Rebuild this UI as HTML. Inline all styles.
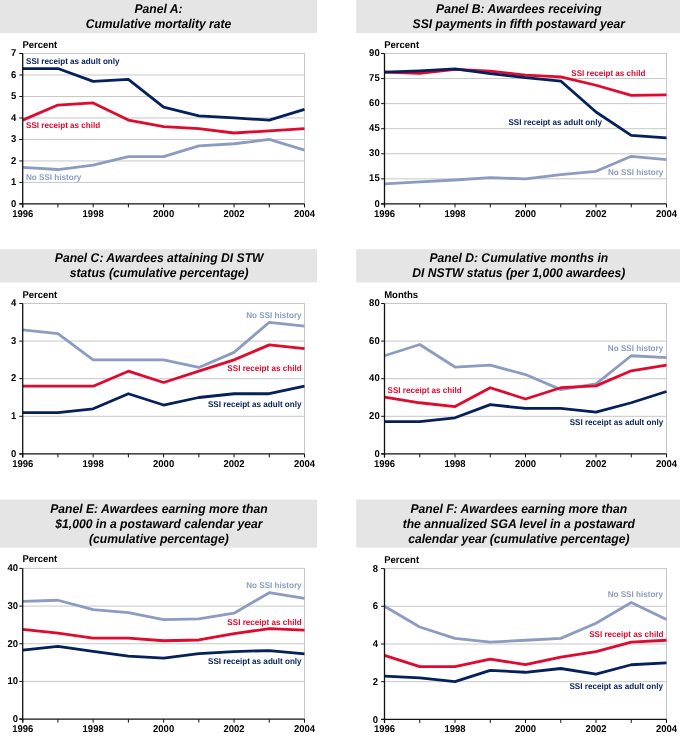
<!DOCTYPE html>
<html><head><meta charset="utf-8"><title>Chart</title>
<style>
html,body{margin:0;padding:0;background:#fff;}
svg{display:block;will-change:transform;}
text{font-family:"Liberation Sans",sans-serif;text-rendering:geometricPrecision;}
.t{font-size:12.15px;font-weight:bold;font-style:italic;fill:#000;text-anchor:middle;}
.a{font-size:9.5px;font-weight:bold;fill:#000;}
.s{font-size:8.1px;font-weight:bold;}
</style></head><body>
<svg width="680" height="737" viewBox="0 0 680 737">
<rect width="680" height="737" fill="#fff"/>
<g>
<rect x="0" y="0" width="317" height="33.1" fill="#e5e5e5"/>
<text class="t" transform="translate(158.5 12.8) scale(1 1.04)">Panel A:</text>
<text class="t" transform="translate(158.5 27.6) scale(1 1.04)">Cumulative mortality rate</text>
<text class="a" transform="translate(22.4 47.5) scale(1 1.04)">Percent</text>
<line x1="22.7" y1="182.41" x2="305" y2="182.41" stroke="#c6c7c9" stroke-width="1"/>
<line x1="22.7" y1="160.93" x2="305" y2="160.93" stroke="#c6c7c9" stroke-width="1"/>
<line x1="22.7" y1="139.44" x2="305" y2="139.44" stroke="#c6c7c9" stroke-width="1"/>
<line x1="22.7" y1="117.96" x2="305" y2="117.96" stroke="#c6c7c9" stroke-width="1"/>
<line x1="22.7" y1="96.47" x2="305" y2="96.47" stroke="#c6c7c9" stroke-width="1"/>
<line x1="22.7" y1="74.99" x2="305" y2="74.99" stroke="#c6c7c9" stroke-width="1"/>
<line x1="22.7" y1="53.50" x2="305" y2="53.50" stroke="#c6c7c9" stroke-width="1"/>
<line x1="304.5" y1="53.5" x2="304.5" y2="203.9" stroke="#c6c7c9" stroke-width="1"/>
<polyline points="22.70,167.37 57.92,169.52 93.15,165.23 128.38,156.63 163.60,156.63 198.82,145.89 234.05,143.74 269.28,139.44 304.50,150.19" fill="none" stroke="#8c9cc1" stroke-width="2.8" stroke-linejoin="round"/>
<polyline points="22.70,120.11 57.92,105.07 93.15,102.92 128.38,120.11 163.60,126.55 198.82,128.70 234.05,133.00 269.28,130.85 304.50,128.70" fill="none" stroke="#df0a2e" stroke-width="2.8" stroke-linejoin="round"/>
<polyline points="22.70,68.54 57.92,68.54 93.15,81.43 128.38,79.28 163.60,107.21 198.82,115.81 234.05,117.96 269.28,120.11 304.50,109.36" fill="none" stroke="#05205a" stroke-width="2.8" stroke-linejoin="round"/>
<line x1="22.7" y1="53.5" x2="22.7" y2="207.4" stroke="#111" stroke-width="1.3"/>
<line x1="19.3" y1="203.9" x2="304.5" y2="203.9" stroke="#111" stroke-width="1.3"/>
<line x1="19.3" y1="203.90" x2="22.7" y2="203.90" stroke="#111" stroke-width="1"/>
<text class="a" transform="translate(16.2 206.50) scale(1 1.04)" text-anchor="end">0</text>
<line x1="19.3" y1="182.41" x2="22.7" y2="182.41" stroke="#111" stroke-width="1"/>
<text class="a" transform="translate(16.2 185.01) scale(1 1.04)" text-anchor="end">1</text>
<line x1="19.3" y1="160.93" x2="22.7" y2="160.93" stroke="#111" stroke-width="1"/>
<text class="a" transform="translate(16.2 163.53) scale(1 1.04)" text-anchor="end">2</text>
<line x1="19.3" y1="139.44" x2="22.7" y2="139.44" stroke="#111" stroke-width="1"/>
<text class="a" transform="translate(16.2 142.04) scale(1 1.04)" text-anchor="end">3</text>
<line x1="19.3" y1="117.96" x2="22.7" y2="117.96" stroke="#111" stroke-width="1"/>
<text class="a" transform="translate(16.2 120.56) scale(1 1.04)" text-anchor="end">4</text>
<line x1="19.3" y1="96.47" x2="22.7" y2="96.47" stroke="#111" stroke-width="1"/>
<text class="a" transform="translate(16.2 99.07) scale(1 1.04)" text-anchor="end">5</text>
<line x1="19.3" y1="74.99" x2="22.7" y2="74.99" stroke="#111" stroke-width="1"/>
<text class="a" transform="translate(16.2 77.59) scale(1 1.04)" text-anchor="end">6</text>
<line x1="19.3" y1="53.50" x2="22.7" y2="53.50" stroke="#111" stroke-width="1"/>
<text class="a" transform="translate(16.2 56.10) scale(1 1.04)" text-anchor="end">7</text>
<line x1="22.70" y1="203.9" x2="22.70" y2="207.4" stroke="#111" stroke-width="1"/>
<text class="a" transform="translate(22.70 216.6) scale(1 1.04)" text-anchor="middle">1996</text>
<line x1="57.92" y1="203.9" x2="57.92" y2="207.4" stroke="#111" stroke-width="1"/>
<line x1="93.15" y1="203.9" x2="93.15" y2="207.4" stroke="#111" stroke-width="1"/>
<text class="a" transform="translate(93.15 216.6) scale(1 1.04)" text-anchor="middle">1998</text>
<line x1="128.38" y1="203.9" x2="128.38" y2="207.4" stroke="#111" stroke-width="1"/>
<line x1="163.60" y1="203.9" x2="163.60" y2="207.4" stroke="#111" stroke-width="1"/>
<text class="a" transform="translate(163.60 216.6) scale(1 1.04)" text-anchor="middle">2000</text>
<line x1="198.82" y1="203.9" x2="198.82" y2="207.4" stroke="#111" stroke-width="1"/>
<line x1="234.05" y1="203.9" x2="234.05" y2="207.4" stroke="#111" stroke-width="1"/>
<text class="a" transform="translate(234.05 216.6) scale(1 1.04)" text-anchor="middle">2002</text>
<line x1="269.28" y1="203.9" x2="269.28" y2="207.4" stroke="#111" stroke-width="1"/>
<line x1="304.50" y1="203.9" x2="304.50" y2="207.4" stroke="#111" stroke-width="1"/>
<text class="a" transform="translate(304.50 216.6) scale(1 1.04)" text-anchor="middle">2004</text>
<text class="s" transform="translate(26 64.1) scale(1 1.04)" text-anchor="start" fill="#05205a">SSI receipt as adult only</text>
<text class="s" transform="translate(26 128.1) scale(1 1.04)" text-anchor="start" fill="#df0a2e">SSI receipt as child</text>
<text class="s" transform="translate(26 179.9) scale(1 1.04)" text-anchor="start" fill="#8c9cc1">No SSI history</text>
</g>
<g>
<rect x="356.2" y="0" width="324" height="33.1" fill="#e5e5e5"/>
<text class="t" transform="translate(518.8 12.8) scale(1 1.04)">Panel B: Awardees receiving</text>
<text class="t" transform="translate(518.8 27.6) scale(1 1.04)">SSI payments in fifth postaward year</text>
<text class="a" transform="translate(384.2 48) scale(1 1.04)">Percent</text>
<line x1="384.5" y1="178.83" x2="667" y2="178.83" stroke="#c6c7c9" stroke-width="1"/>
<line x1="384.5" y1="153.77" x2="667" y2="153.77" stroke="#c6c7c9" stroke-width="1"/>
<line x1="384.5" y1="128.70" x2="667" y2="128.70" stroke="#c6c7c9" stroke-width="1"/>
<line x1="384.5" y1="103.63" x2="667" y2="103.63" stroke="#c6c7c9" stroke-width="1"/>
<line x1="384.5" y1="78.57" x2="667" y2="78.57" stroke="#c6c7c9" stroke-width="1"/>
<line x1="384.5" y1="53.50" x2="667" y2="53.50" stroke="#c6c7c9" stroke-width="1"/>
<line x1="666.5" y1="53.5" x2="666.5" y2="203.9" stroke="#c6c7c9" stroke-width="1"/>
<polyline points="384.50,183.85 419.75,181.84 455.00,180.00 490.25,177.66 525.50,178.83 560.75,174.66 596.00,171.31 631.25,156.27 666.50,159.62" fill="none" stroke="#8c9cc1" stroke-width="2.8" stroke-linejoin="round"/>
<polyline points="384.50,72.22 419.75,73.39 455.00,69.38 490.25,71.05 525.50,75.22 560.75,76.90 596.00,85.25 631.25,95.28 666.50,94.94" fill="none" stroke="#df0a2e" stroke-width="2.8" stroke-linejoin="round"/>
<polyline points="384.50,72.13 419.75,70.80 455.00,68.87 490.25,73.55 525.50,77.73 560.75,81.07 596.00,111.99 631.25,135.38 666.50,137.89" fill="none" stroke="#05205a" stroke-width="2.8" stroke-linejoin="round"/>
<line x1="384.5" y1="53.5" x2="384.5" y2="207.4" stroke="#111" stroke-width="1.3"/>
<line x1="381.1" y1="203.9" x2="666.5" y2="203.9" stroke="#111" stroke-width="1.3"/>
<line x1="381.1" y1="203.90" x2="384.5" y2="203.90" stroke="#111" stroke-width="1"/>
<text class="a" transform="translate(379.7 206.50) scale(1 1.04)" text-anchor="end">0</text>
<line x1="381.1" y1="178.83" x2="384.5" y2="178.83" stroke="#111" stroke-width="1"/>
<text class="a" transform="translate(379.7 181.43) scale(1 1.04)" text-anchor="end">15</text>
<line x1="381.1" y1="153.77" x2="384.5" y2="153.77" stroke="#111" stroke-width="1"/>
<text class="a" transform="translate(379.7 156.37) scale(1 1.04)" text-anchor="end">30</text>
<line x1="381.1" y1="128.70" x2="384.5" y2="128.70" stroke="#111" stroke-width="1"/>
<text class="a" transform="translate(379.7 131.30) scale(1 1.04)" text-anchor="end">45</text>
<line x1="381.1" y1="103.63" x2="384.5" y2="103.63" stroke="#111" stroke-width="1"/>
<text class="a" transform="translate(379.7 106.23) scale(1 1.04)" text-anchor="end">60</text>
<line x1="381.1" y1="78.57" x2="384.5" y2="78.57" stroke="#111" stroke-width="1"/>
<text class="a" transform="translate(379.7 81.17) scale(1 1.04)" text-anchor="end">75</text>
<line x1="381.1" y1="53.50" x2="384.5" y2="53.50" stroke="#111" stroke-width="1"/>
<text class="a" transform="translate(379.7 56.10) scale(1 1.04)" text-anchor="end">90</text>
<line x1="384.50" y1="203.9" x2="384.50" y2="207.4" stroke="#111" stroke-width="1"/>
<text class="a" transform="translate(384.50 216.6) scale(1 1.04)" text-anchor="middle">1996</text>
<line x1="419.75" y1="203.9" x2="419.75" y2="207.4" stroke="#111" stroke-width="1"/>
<line x1="455.00" y1="203.9" x2="455.00" y2="207.4" stroke="#111" stroke-width="1"/>
<text class="a" transform="translate(455.00 216.6) scale(1 1.04)" text-anchor="middle">1998</text>
<line x1="490.25" y1="203.9" x2="490.25" y2="207.4" stroke="#111" stroke-width="1"/>
<line x1="525.50" y1="203.9" x2="525.50" y2="207.4" stroke="#111" stroke-width="1"/>
<text class="a" transform="translate(525.50 216.6) scale(1 1.04)" text-anchor="middle">2000</text>
<line x1="560.75" y1="203.9" x2="560.75" y2="207.4" stroke="#111" stroke-width="1"/>
<line x1="596.00" y1="203.9" x2="596.00" y2="207.4" stroke="#111" stroke-width="1"/>
<text class="a" transform="translate(596.00 216.6) scale(1 1.04)" text-anchor="middle">2002</text>
<line x1="631.25" y1="203.9" x2="631.25" y2="207.4" stroke="#111" stroke-width="1"/>
<line x1="666.50" y1="203.9" x2="666.50" y2="207.4" stroke="#111" stroke-width="1"/>
<text class="a" transform="translate(666.50 216.6) scale(1 1.04)" text-anchor="middle">2004</text>
<text class="s" transform="translate(645.5 75.9) scale(1 1.04)" text-anchor="end" fill="#df0a2e">SSI receipt as child</text>
<text class="s" transform="translate(602 124.9) scale(1 1.04)" text-anchor="end" fill="#05205a">SSI receipt as adult only</text>
<text class="s" transform="translate(663.3 174.7) scale(1 1.04)" text-anchor="end" fill="#8c9cc1">No SSI history</text>
</g>
<g>
<rect x="0" y="249.2" width="317" height="33.2" fill="#e5e5e5"/>
<text class="t" transform="translate(159.2 262.3) scale(1 1.04)">Panel C: Awardees attaining DI STW</text>
<text class="t" transform="translate(159.2 277) scale(1 1.04)">status (cumulative percentage)</text>
<text class="a" transform="translate(22.4 297.5) scale(1 1.04)">Percent</text>
<line x1="22.7" y1="416.30" x2="305" y2="416.30" stroke="#c6c7c9" stroke-width="1"/>
<line x1="22.7" y1="378.70" x2="305" y2="378.70" stroke="#c6c7c9" stroke-width="1"/>
<line x1="22.7" y1="341.10" x2="305" y2="341.10" stroke="#c6c7c9" stroke-width="1"/>
<line x1="22.7" y1="303.50" x2="305" y2="303.50" stroke="#c6c7c9" stroke-width="1"/>
<line x1="304.5" y1="303.5" x2="304.5" y2="453.9" stroke="#c6c7c9" stroke-width="1"/>
<polyline points="22.70,329.82 57.92,333.58 93.15,359.90 128.38,359.90 163.60,359.90 198.82,367.42 234.05,352.38 269.28,322.30 304.50,326.06" fill="none" stroke="#8c9cc1" stroke-width="2.8" stroke-linejoin="round"/>
<polyline points="22.70,386.22 57.92,386.22 93.15,386.22 128.38,371.18 163.60,382.46 198.82,371.18 234.05,359.90 269.28,344.86 304.50,348.62" fill="none" stroke="#df0a2e" stroke-width="2.8" stroke-linejoin="round"/>
<polyline points="22.70,412.54 57.92,412.54 93.15,408.78 128.38,393.74 163.60,405.02 198.82,397.50 234.05,393.74 269.28,393.74 304.50,386.22" fill="none" stroke="#05205a" stroke-width="2.8" stroke-linejoin="round"/>
<line x1="22.7" y1="303.5" x2="22.7" y2="457.4" stroke="#111" stroke-width="1.3"/>
<line x1="19.3" y1="453.9" x2="304.5" y2="453.9" stroke="#111" stroke-width="1.3"/>
<line x1="19.3" y1="453.90" x2="22.7" y2="453.90" stroke="#111" stroke-width="1"/>
<text class="a" transform="translate(16.2 456.50) scale(1 1.04)" text-anchor="end">0</text>
<line x1="19.3" y1="416.30" x2="22.7" y2="416.30" stroke="#111" stroke-width="1"/>
<text class="a" transform="translate(16.2 418.90) scale(1 1.04)" text-anchor="end">1</text>
<line x1="19.3" y1="378.70" x2="22.7" y2="378.70" stroke="#111" stroke-width="1"/>
<text class="a" transform="translate(16.2 381.30) scale(1 1.04)" text-anchor="end">2</text>
<line x1="19.3" y1="341.10" x2="22.7" y2="341.10" stroke="#111" stroke-width="1"/>
<text class="a" transform="translate(16.2 343.70) scale(1 1.04)" text-anchor="end">3</text>
<line x1="19.3" y1="303.50" x2="22.7" y2="303.50" stroke="#111" stroke-width="1"/>
<text class="a" transform="translate(16.2 306.10) scale(1 1.04)" text-anchor="end">4</text>
<line x1="22.70" y1="453.9" x2="22.70" y2="457.4" stroke="#111" stroke-width="1"/>
<text class="a" transform="translate(22.70 466.6) scale(1 1.04)" text-anchor="middle">1996</text>
<line x1="57.92" y1="453.9" x2="57.92" y2="457.4" stroke="#111" stroke-width="1"/>
<line x1="93.15" y1="453.9" x2="93.15" y2="457.4" stroke="#111" stroke-width="1"/>
<text class="a" transform="translate(93.15 466.6) scale(1 1.04)" text-anchor="middle">1998</text>
<line x1="128.38" y1="453.9" x2="128.38" y2="457.4" stroke="#111" stroke-width="1"/>
<line x1="163.60" y1="453.9" x2="163.60" y2="457.4" stroke="#111" stroke-width="1"/>
<text class="a" transform="translate(163.60 466.6) scale(1 1.04)" text-anchor="middle">2000</text>
<line x1="198.82" y1="453.9" x2="198.82" y2="457.4" stroke="#111" stroke-width="1"/>
<line x1="234.05" y1="453.9" x2="234.05" y2="457.4" stroke="#111" stroke-width="1"/>
<text class="a" transform="translate(234.05 466.6) scale(1 1.04)" text-anchor="middle">2002</text>
<line x1="269.28" y1="453.9" x2="269.28" y2="457.4" stroke="#111" stroke-width="1"/>
<line x1="304.50" y1="453.9" x2="304.50" y2="457.4" stroke="#111" stroke-width="1"/>
<text class="a" transform="translate(304.50 466.6) scale(1 1.04)" text-anchor="middle">2004</text>
<text class="s" transform="translate(301.6 317.8) scale(1 1.04)" text-anchor="end" fill="#8c9cc1">No SSI history</text>
<text class="s" transform="translate(301.6 371.2) scale(1 1.04)" text-anchor="end" fill="#df0a2e">SSI receipt as child</text>
<text class="s" transform="translate(301.5 406.6) scale(1 1.04)" text-anchor="end" fill="#05205a">SSI receipt as adult only</text>
</g>
<g>
<rect x="356.2" y="249.2" width="324" height="33.2" fill="#e5e5e5"/>
<text class="t" transform="translate(518.8 262.3) scale(1 1.04)">Panel D: Cumulative months in</text>
<text class="t" transform="translate(518.8 277) scale(1 1.04)">DI NSTW status (per 1,000 awardees)</text>
<text class="a" transform="translate(384.2 297.5) scale(1 1.04)">Months</text>
<line x1="384.5" y1="416.30" x2="667" y2="416.30" stroke="#c6c7c9" stroke-width="1"/>
<line x1="384.5" y1="378.70" x2="667" y2="378.70" stroke="#c6c7c9" stroke-width="1"/>
<line x1="384.5" y1="341.10" x2="667" y2="341.10" stroke="#c6c7c9" stroke-width="1"/>
<line x1="384.5" y1="303.50" x2="667" y2="303.50" stroke="#c6c7c9" stroke-width="1"/>
<line x1="666.5" y1="303.5" x2="666.5" y2="453.9" stroke="#c6c7c9" stroke-width="1"/>
<polyline points="384.50,355.76 419.75,344.48 455.00,367.04 490.25,365.16 525.50,374.56 560.75,389.60 596.00,383.96 631.25,355.76 666.50,357.64" fill="none" stroke="#8c9cc1" stroke-width="2.8" stroke-linejoin="round"/>
<polyline points="384.50,397.12 419.75,402.76 455.00,406.52 490.25,387.72 525.50,399.00 560.75,387.72 596.00,385.84 631.25,370.80 666.50,365.16" fill="none" stroke="#df0a2e" stroke-width="2.8" stroke-linejoin="round"/>
<polyline points="384.50,421.56 419.75,421.56 455.00,417.80 490.25,404.64 525.50,408.40 560.75,408.40 596.00,412.16 631.25,402.76 666.50,391.48" fill="none" stroke="#05205a" stroke-width="2.8" stroke-linejoin="round"/>
<line x1="384.5" y1="303.5" x2="384.5" y2="457.4" stroke="#111" stroke-width="1.3"/>
<line x1="381.1" y1="453.9" x2="666.5" y2="453.9" stroke="#111" stroke-width="1.3"/>
<line x1="381.1" y1="453.90" x2="384.5" y2="453.90" stroke="#111" stroke-width="1"/>
<text class="a" transform="translate(379.7 456.50) scale(1 1.04)" text-anchor="end">0</text>
<line x1="381.1" y1="416.30" x2="384.5" y2="416.30" stroke="#111" stroke-width="1"/>
<text class="a" transform="translate(379.7 418.90) scale(1 1.04)" text-anchor="end">20</text>
<line x1="381.1" y1="378.70" x2="384.5" y2="378.70" stroke="#111" stroke-width="1"/>
<text class="a" transform="translate(379.7 381.30) scale(1 1.04)" text-anchor="end">40</text>
<line x1="381.1" y1="341.10" x2="384.5" y2="341.10" stroke="#111" stroke-width="1"/>
<text class="a" transform="translate(379.7 343.70) scale(1 1.04)" text-anchor="end">60</text>
<line x1="381.1" y1="303.50" x2="384.5" y2="303.50" stroke="#111" stroke-width="1"/>
<text class="a" transform="translate(379.7 306.10) scale(1 1.04)" text-anchor="end">80</text>
<line x1="384.50" y1="453.9" x2="384.50" y2="457.4" stroke="#111" stroke-width="1"/>
<text class="a" transform="translate(384.50 466.6) scale(1 1.04)" text-anchor="middle">1996</text>
<line x1="419.75" y1="453.9" x2="419.75" y2="457.4" stroke="#111" stroke-width="1"/>
<line x1="455.00" y1="453.9" x2="455.00" y2="457.4" stroke="#111" stroke-width="1"/>
<text class="a" transform="translate(455.00 466.6) scale(1 1.04)" text-anchor="middle">1998</text>
<line x1="490.25" y1="453.9" x2="490.25" y2="457.4" stroke="#111" stroke-width="1"/>
<line x1="525.50" y1="453.9" x2="525.50" y2="457.4" stroke="#111" stroke-width="1"/>
<text class="a" transform="translate(525.50 466.6) scale(1 1.04)" text-anchor="middle">2000</text>
<line x1="560.75" y1="453.9" x2="560.75" y2="457.4" stroke="#111" stroke-width="1"/>
<line x1="596.00" y1="453.9" x2="596.00" y2="457.4" stroke="#111" stroke-width="1"/>
<text class="a" transform="translate(596.00 466.6) scale(1 1.04)" text-anchor="middle">2002</text>
<line x1="631.25" y1="453.9" x2="631.25" y2="457.4" stroke="#111" stroke-width="1"/>
<line x1="666.50" y1="453.9" x2="666.50" y2="457.4" stroke="#111" stroke-width="1"/>
<text class="a" transform="translate(666.50 466.6) scale(1 1.04)" text-anchor="middle">2004</text>
<text class="s" transform="translate(663.2 350.8) scale(1 1.04)" text-anchor="end" fill="#8c9cc1">No SSI history</text>
<text class="s" transform="translate(387.5 393) scale(1 1.04)" text-anchor="start" fill="#df0a2e">SSI receipt as child</text>
<text class="s" transform="translate(663.2 424.8) scale(1 1.04)" text-anchor="end" fill="#05205a">SSI receipt as adult only</text>
</g>
<g>
<rect x="0" y="499.5" width="317" height="48.2" fill="#e5e5e5"/>
<text class="t" transform="translate(158.9 513.3) scale(1 1.04)">Panel E: Awardees earning more than</text>
<text class="t" transform="translate(158.9 528.1) scale(1 1.04)">$1,000 in a postaward calendar year</text>
<text class="t" transform="translate(158.9 542.7) scale(1 1.04)">(cumulative percentage)</text>
<text class="a" transform="translate(22.4 562.3) scale(1 1.04)">Percent</text>
<line x1="22.7" y1="681.42" x2="305" y2="681.42" stroke="#c6c7c9" stroke-width="1"/>
<line x1="22.7" y1="643.75" x2="305" y2="643.75" stroke="#c6c7c9" stroke-width="1"/>
<line x1="22.7" y1="606.07" x2="305" y2="606.07" stroke="#c6c7c9" stroke-width="1"/>
<line x1="22.7" y1="568.40" x2="305" y2="568.40" stroke="#c6c7c9" stroke-width="1"/>
<line x1="304.5" y1="568.4" x2="304.5" y2="719.1" stroke="#c6c7c9" stroke-width="1"/>
<polyline points="22.70,601.37 57.92,600.24 93.15,609.65 128.38,612.67 163.60,619.64 198.82,618.88 234.05,613.23 269.28,592.70 304.50,598.35" fill="none" stroke="#8c9cc1" stroke-width="2.8" stroke-linejoin="round"/>
<polyline points="22.70,629.43 57.92,633.20 93.15,638.10 128.38,638.10 163.60,640.74 198.82,639.98 234.05,633.58 269.28,628.68 304.50,630.19" fill="none" stroke="#df0a2e" stroke-width="2.8" stroke-linejoin="round"/>
<polyline points="22.70,650.15 57.92,646.39 93.15,651.28 128.38,656.18 163.60,658.07 198.82,653.55 234.05,651.66 269.28,650.53 304.50,653.92" fill="none" stroke="#05205a" stroke-width="2.8" stroke-linejoin="round"/>
<line x1="22.7" y1="568.4" x2="22.7" y2="722.6" stroke="#111" stroke-width="1.3"/>
<line x1="19.3" y1="719.1" x2="304.5" y2="719.1" stroke="#111" stroke-width="1.3"/>
<line x1="19.3" y1="719.10" x2="22.7" y2="719.10" stroke="#111" stroke-width="1"/>
<text class="a" transform="translate(18.1 722.00) scale(1 1.04)" text-anchor="end">0</text>
<line x1="19.3" y1="681.42" x2="22.7" y2="681.42" stroke="#111" stroke-width="1"/>
<text class="a" transform="translate(18.1 684.32) scale(1 1.04)" text-anchor="end">10</text>
<line x1="19.3" y1="643.75" x2="22.7" y2="643.75" stroke="#111" stroke-width="1"/>
<text class="a" transform="translate(18.1 646.65) scale(1 1.04)" text-anchor="end">20</text>
<line x1="19.3" y1="606.07" x2="22.7" y2="606.07" stroke="#111" stroke-width="1"/>
<text class="a" transform="translate(18.1 608.97) scale(1 1.04)" text-anchor="end">30</text>
<line x1="19.3" y1="568.40" x2="22.7" y2="568.40" stroke="#111" stroke-width="1"/>
<text class="a" transform="translate(18.1 571.30) scale(1 1.04)" text-anchor="end">40</text>
<line x1="22.70" y1="719.1" x2="22.70" y2="722.6" stroke="#111" stroke-width="1"/>
<text class="a" transform="translate(22.70 731.8) scale(1 1.04)" text-anchor="middle">1996</text>
<line x1="57.92" y1="719.1" x2="57.92" y2="722.6" stroke="#111" stroke-width="1"/>
<line x1="93.15" y1="719.1" x2="93.15" y2="722.6" stroke="#111" stroke-width="1"/>
<text class="a" transform="translate(93.15 731.8) scale(1 1.04)" text-anchor="middle">1998</text>
<line x1="128.38" y1="719.1" x2="128.38" y2="722.6" stroke="#111" stroke-width="1"/>
<line x1="163.60" y1="719.1" x2="163.60" y2="722.6" stroke="#111" stroke-width="1"/>
<text class="a" transform="translate(163.60 731.8) scale(1 1.04)" text-anchor="middle">2000</text>
<line x1="198.82" y1="719.1" x2="198.82" y2="722.6" stroke="#111" stroke-width="1"/>
<line x1="234.05" y1="719.1" x2="234.05" y2="722.6" stroke="#111" stroke-width="1"/>
<text class="a" transform="translate(234.05 731.8) scale(1 1.04)" text-anchor="middle">2002</text>
<line x1="269.28" y1="719.1" x2="269.28" y2="722.6" stroke="#111" stroke-width="1"/>
<line x1="304.50" y1="719.1" x2="304.50" y2="722.6" stroke="#111" stroke-width="1"/>
<text class="a" transform="translate(304.50 731.8) scale(1 1.04)" text-anchor="middle">2004</text>
<text class="s" transform="translate(301.6 587.8) scale(1 1.04)" text-anchor="end" fill="#8c9cc1">No SSI history</text>
<text class="s" transform="translate(301.6 625) scale(1 1.04)" text-anchor="end" fill="#df0a2e">SSI receipt as child</text>
<text class="s" transform="translate(301.6 664) scale(1 1.04)" text-anchor="end" fill="#05205a">SSI receipt as adult only</text>
</g>
<g>
<rect x="356.2" y="499.5" width="324" height="48.2" fill="#e5e5e5"/>
<text class="t" transform="translate(518.8 513.3) scale(1 1.04)">Panel F: Awardees earning more than</text>
<text class="t" transform="translate(518.8 528.1) scale(1 1.04)">the annualized SGA level in a postaward</text>
<text class="t" transform="translate(518.8 542.7) scale(1 1.04)">calendar year (cumulative percentage)</text>
<text class="a" transform="translate(384.2 562.6) scale(1 1.04)">Percent</text>
<line x1="384.5" y1="681.70" x2="667" y2="681.70" stroke="#c6c7c9" stroke-width="1"/>
<line x1="384.5" y1="644.00" x2="667" y2="644.00" stroke="#c6c7c9" stroke-width="1"/>
<line x1="384.5" y1="606.30" x2="667" y2="606.30" stroke="#c6c7c9" stroke-width="1"/>
<line x1="384.5" y1="568.60" x2="667" y2="568.60" stroke="#c6c7c9" stroke-width="1"/>
<line x1="666.5" y1="568.6" x2="666.5" y2="719.4" stroke="#c6c7c9" stroke-width="1"/>
<polyline points="384.50,606.30 419.75,627.03 455.00,638.35 490.25,642.12 525.50,640.23 560.75,638.35 596.00,623.26 631.25,602.53 666.50,619.50" fill="none" stroke="#8c9cc1" stroke-width="2.8" stroke-linejoin="round"/>
<polyline points="384.50,655.31 419.75,666.62 455.00,666.62 490.25,659.08 525.50,664.74 560.75,657.20 596.00,651.54 631.25,642.12 666.50,640.23" fill="none" stroke="#df0a2e" stroke-width="2.8" stroke-linejoin="round"/>
<polyline points="384.50,676.04 419.75,677.93 455.00,681.70 490.25,670.39 525.50,672.27 560.75,668.50 596.00,674.16 631.25,664.74 666.50,662.85" fill="none" stroke="#05205a" stroke-width="2.8" stroke-linejoin="round"/>
<line x1="384.5" y1="568.6" x2="384.5" y2="722.9" stroke="#111" stroke-width="1.3"/>
<line x1="381.1" y1="719.4" x2="666.5" y2="719.4" stroke="#111" stroke-width="1.3"/>
<line x1="381.1" y1="719.40" x2="384.5" y2="719.40" stroke="#111" stroke-width="1"/>
<text class="a" transform="translate(378.1 722.50) scale(1 1.04)" text-anchor="end">0</text>
<line x1="381.1" y1="681.70" x2="384.5" y2="681.70" stroke="#111" stroke-width="1"/>
<text class="a" transform="translate(378.1 684.80) scale(1 1.04)" text-anchor="end">2</text>
<line x1="381.1" y1="644.00" x2="384.5" y2="644.00" stroke="#111" stroke-width="1"/>
<text class="a" transform="translate(378.1 647.10) scale(1 1.04)" text-anchor="end">4</text>
<line x1="381.1" y1="606.30" x2="384.5" y2="606.30" stroke="#111" stroke-width="1"/>
<text class="a" transform="translate(378.1 609.40) scale(1 1.04)" text-anchor="end">6</text>
<line x1="381.1" y1="568.60" x2="384.5" y2="568.60" stroke="#111" stroke-width="1"/>
<text class="a" transform="translate(378.1 571.70) scale(1 1.04)" text-anchor="end">8</text>
<line x1="384.50" y1="719.4" x2="384.50" y2="722.9" stroke="#111" stroke-width="1"/>
<text class="a" transform="translate(384.50 732.1) scale(1 1.04)" text-anchor="middle">1996</text>
<line x1="419.75" y1="719.4" x2="419.75" y2="722.9" stroke="#111" stroke-width="1"/>
<line x1="455.00" y1="719.4" x2="455.00" y2="722.9" stroke="#111" stroke-width="1"/>
<text class="a" transform="translate(455.00 732.1) scale(1 1.04)" text-anchor="middle">1998</text>
<line x1="490.25" y1="719.4" x2="490.25" y2="722.9" stroke="#111" stroke-width="1"/>
<line x1="525.50" y1="719.4" x2="525.50" y2="722.9" stroke="#111" stroke-width="1"/>
<text class="a" transform="translate(525.50 732.1) scale(1 1.04)" text-anchor="middle">2000</text>
<line x1="560.75" y1="719.4" x2="560.75" y2="722.9" stroke="#111" stroke-width="1"/>
<line x1="596.00" y1="719.4" x2="596.00" y2="722.9" stroke="#111" stroke-width="1"/>
<text class="a" transform="translate(596.00 732.1) scale(1 1.04)" text-anchor="middle">2002</text>
<line x1="631.25" y1="719.4" x2="631.25" y2="722.9" stroke="#111" stroke-width="1"/>
<line x1="666.50" y1="719.4" x2="666.50" y2="722.9" stroke="#111" stroke-width="1"/>
<text class="a" transform="translate(666.50 732.1) scale(1 1.04)" text-anchor="middle">2004</text>
<text class="s" transform="translate(663 597) scale(1 1.04)" text-anchor="end" fill="#8c9cc1">No SSI history</text>
<text class="s" transform="translate(663.4 636.6) scale(1 1.04)" text-anchor="end" fill="#df0a2e">SSI receipt as child</text>
<text class="s" transform="translate(663 689) scale(1 1.04)" text-anchor="end" fill="#05205a">SSI receipt as adult only</text>
</g>
</svg>
</body></html>
